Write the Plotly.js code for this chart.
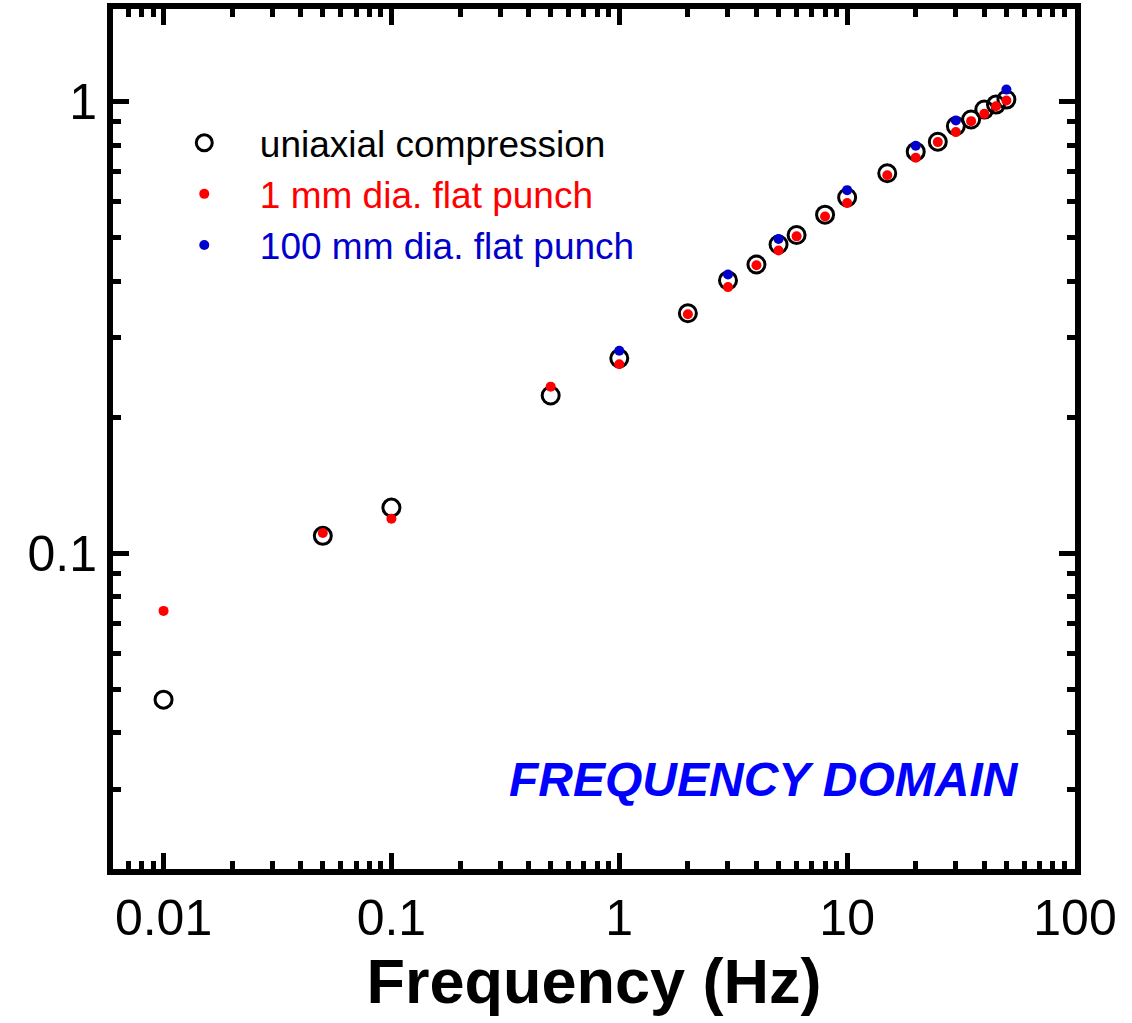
<!DOCTYPE html>
<html>
<head>
<meta charset="utf-8">
<script src="https://cdn.plot.ly/plotly-3.0.1.min.js"></script>
<style>html,body{margin:0;padding:0;background:#fff;}#chart{width:1132px;height:1023px;}</style>
</head>
<body>
<div id="chart"></div>
<script>
// Frequency (Hz)
const freqAll = [0.01, 0.05, 0.1, 0.5, 1, 2, 3, 4, 5, 6, 8, 10, 15, 20, 25, 30, 35, 40, 45, 50];
// uniaxial compression (open black circles)
const uniaxial = [0.0474, 0.1092, 0.1261, 0.2233, 0.2698, 0.3396, 0.4013, 0.4352, 0.4818, 0.5059,
                  0.561, 0.6124, 0.693, 0.7734, 0.8135, 0.881, 0.9113, 0.9585, 0.983, 1.0086];
// 1 mm dia. flat punch (red dots)
const punch1 = [0.0745, 0.1108, 0.1192, 0.2336, 0.2617, 0.3379, 0.3879, 0.4336, 0.4673, 0.5024,
                0.556, 0.5953, 0.686, 0.750, 0.812, 0.8545, 0.9036, 0.9377, 0.975, 1.0036];
// 100 mm dia. flat punch (blue dots)
const freq100 = [1, 3, 5, 10, 20, 30, 50];
const punch100 = [0.2804, 0.4137, 0.4959, 0.6357, 0.7971, 0.9066, 1.061];

const xTickVals = [0.01, 0.1, 1, 10, 100];
const xTickText = ["0.01", "0.1", "1", "10", "100"];
const yTickVals = [0.1, 1];
const yTickText = ["0.1", "1"];

const names = ["uniaxial compression", "1 mm dia. flat punch", "100 mm dia. flat punch"];
const annotationText = "FREQUENCY DOMAIN";
const xTitle = "Frequency (Hz)";

function minorVals(lo, hi) {
  const out = [];
  for (let e = lo; e <= hi; e++) {
    for (let m = 2; m <= 9; m++) out.push(m * Math.pow(10, e));
  }
  return out;
}

const FONT = '"Liberation Sans", Arial, Helvetica, sans-serif';
const PAD = '&nbsp;&nbsp;';

const traces = [
  {
    x: freqAll, y: uniaxial, type: 'scatter', mode: 'markers', name: PAD + names[0],
    marker: {symbol: 'circle-open', size: 17, color: '#000000', line: {width: 3, color: '#000000'}}
  },
  {
    x: freqAll, y: punch1, type: 'scatter', mode: 'markers',
    name: PAD + '<span style="color:#ff0000">' + names[1] + '</span>',
    marker: {symbol: 'circle', size: 10, color: '#ff0000'}
  },
  {
    x: freq100, y: punch100, type: 'scatter', mode: 'markers',
    name: PAD + '<span style="color:#0000cc">' + names[2] + '</span>',
    marker: {symbol: 'circle', size: 10, color: '#0000cc'}
  }
];

const axisCommon = {
  type: 'log',
  showline: true, linecolor: '#000', linewidth: 6, mirror: 'ticks',
  ticks: 'inside', ticklen: 16, tickwidth: 5, tickcolor: '#000',
  showgrid: false, zeroline: false,
  tickmode: 'array',
  tickfont: {family: FONT, size: 50, color: '#000'}
};

const layout = {
  width: 1132, height: 1023,
  margin: {l: 113, r: 57, t: 9, b: 154},
  paper_bgcolor: '#fff', plot_bgcolor: '#fff',
  font: {family: FONT, color: '#000'},
  showlegend: true,
  legend: {
    x: 0.0585, y: 0.88, xanchor: 'left', yanchor: 'top',
    bgcolor: 'rgba(0,0,0,0)', borderwidth: 0,
    font: {family: FONT, size: 37, color: '#000'},
    itemwidth: 60
  },
  xaxis: Object.assign({}, axisCommon, {
    range: [Math.log10(0.006), 2],
    tickvals: xTickVals, ticktext: xTickText,
    minor: {tickmode: 'array', tickvals: minorVals(-3, 1), ticks: 'inside', ticklen: 8, tickwidth: 5, tickcolor: '#000', showgrid: false},
    title: {text: '<b>' + xTitle + '</b>', font: {family: FONT, size: 63, color: '#000'}, standoff: 4}
  }),
  yaxis: Object.assign({}, axisCommon, {
    range: [Math.log10(0.02), Math.log10(1.6)],
    tickvals: yTickVals, ticktext: yTickText,
    minor: {tickmode: 'array', tickvals: minorVals(-2, 0), ticks: 'inside', ticklen: 8, tickwidth: 5, tickcolor: '#000', showgrid: false}
  }),
  annotations: [{
    text: '<b><i>' + annotationText + '</i></b>',
    xref: 'paper', yref: 'paper', x: 0.677, y: 0.1035,
    xanchor: 'center', yanchor: 'middle', showarrow: false,
    font: {family: FONT, size: 48, color: '#0000ff'}
  }]
};

Plotly.newPlot('chart', traces, layout, {displayModeBar: false, staticPlot: true});
</script>
</body>
</html>
